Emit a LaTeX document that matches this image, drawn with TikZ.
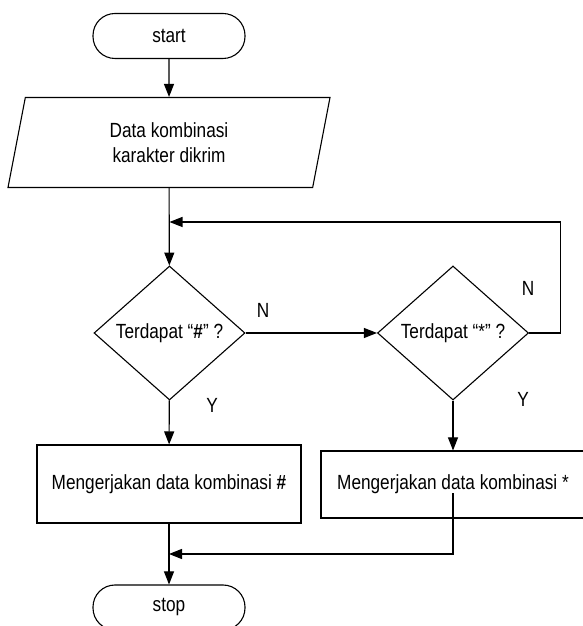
\documentclass[tikz,border=0pt]{standalone}
\usepackage{fontspec}
\setmainfont[FakeStretch=0.84]{Liberation Sans}
\usetikzlibrary{arrows.meta}
\usetikzlibrary{shapes.geometric}

\begin{document}
\begin{tikzpicture}
    [x=1pt,y=1pt,font=\fontsize{20.5}{25}\selectfont,line width=1.1pt,
    terminal/.style={rectangle,rounded corners=22pt,draw,
      inner sep=0pt,minimum width=152pt,minimum height=45pt},
    data/.style={trapezium,trapezium left angle=66.6,trapezium right angle=113.4,
      trapezium stretches body,draw,align=center,
      inner sep=0pt,minimum width=322pt,minimum height=90pt},
    decision/.style={diamond,draw,inner sep=0pt,
      minimum width=151pt,minimum height=134pt},
    process/.style={rectangle,draw,inner sep=0pt,minimum width=264pt},
    flow/.style={-{Triangle[length=13pt,width=10pt]}}]

    \useasboundingbox (0,0) rectangle (582,626);

    \node[terminal]    (start)          at (169,590)   {start};

    \node[data]        (data)           at (169,483.5) {Data kombinasi\\karakter dikrim};

    \node[decision]    (cek pagar)      at (169.5,293) {Terdapat “\textbf{\#}” ?};

    \node[decision]    (cek bintang)    at (453,293)   {Terdapat “*” ?};

    \node[process,minimum height=78pt] (proses pagar)   at (169,142)   {Mengerjakan data kombinasi \textbf{\#}};

    \node[process,minimum height=67pt] (proses bintang) at (453,141.5) {Mengerjakan data kombinasi *};

    \node[terminal]    (stop)           at (169,18.5)  {stop};

    \coordinate (loop)  at (169.5,404);
    \coordinate (merge) at (169,72);

    \node (n pagar)    at (263,316) {N};
    \node (y pagar)    at (212,221) {Y};
    \node (n bintang)  at (528,338) {N};
    \node (y bintang)  at (523,227) {Y};

    \draw[flow] (start) -- (data);
    \draw[flow] (data) -- (cek pagar);
    \draw[flow] (cek pagar) -- (cek bintang);
    \draw[flow] (cek bintang.east) -- ++(31,0) |- (loop);
    \draw[flow] (cek pagar) -- (proses pagar);
    \draw[flow] (cek bintang) -- (proses bintang);
    \draw[flow] (proses pagar) -- (stop);
    \draw[flow] ([yshift=-9pt]proses bintang.center) |- (merge);

  \end{tikzpicture}
\end{document}
